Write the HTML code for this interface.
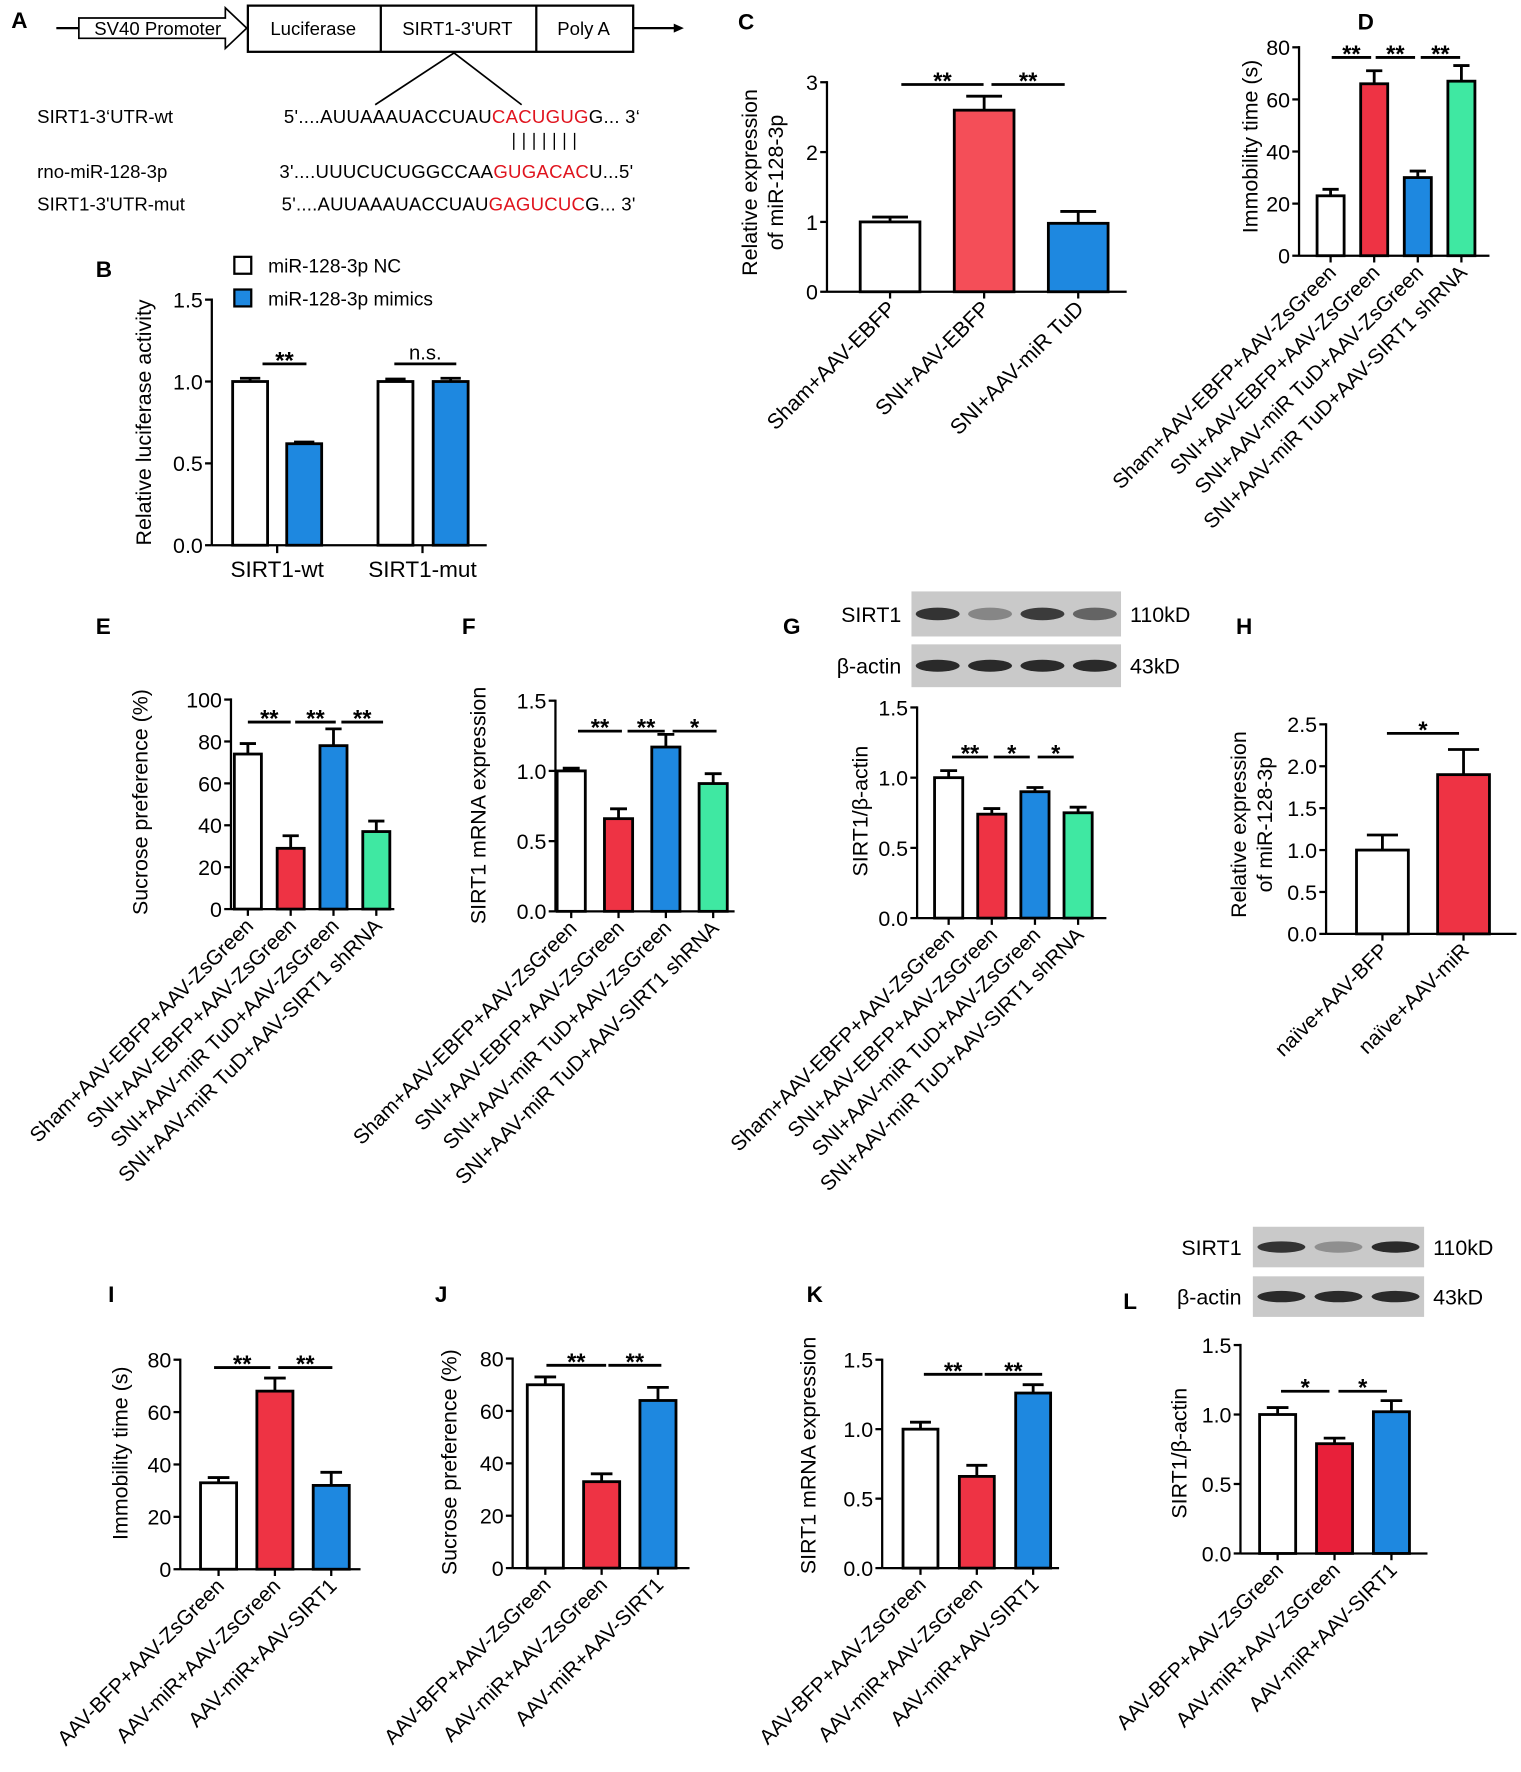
<!DOCTYPE html>
<html><head><meta charset="utf-8"><style>
html,body{margin:0;padding:0;background:#fff}
svg{display:block;font-family:"Liberation Sans",Arial,sans-serif}
</style></head><body>
<svg id="fig" xmlns="http://www.w3.org/2000/svg" width="1521" height="1772" viewBox="0 0 1350 1573" preserveAspectRatio="none">
<g font-size="16.5">
<text x="10" y="25" font-size="20" font-weight="bold">A</text>
<line x1="50" y1="25" x2="70" y2="25" stroke="#000" stroke-width="2"/>
<path d="M70,16 H200 V7 L219,25 L200,43 V34 H70 Z" fill="#fff" stroke="#000" stroke-width="1.5"/>
<text x="140" y="31" text-anchor="middle">SV40 Promoter</text>
<rect x="220" y="5" width="342" height="41" fill="#fff" stroke="#000" stroke-width="2"/>
<line x1="338" y1="5" x2="338" y2="46" stroke="#000" stroke-width="2"/>
<line x1="476" y1="5" x2="476" y2="46" stroke="#000" stroke-width="2"/>
<text x="278" y="31" text-anchor="middle">Luciferase</text>
<text x="406" y="31" text-anchor="middle">SIRT1-3'URT</text>
<text x="518" y="31" text-anchor="middle">Poly A</text>
<line x1="562" y1="25" x2="600" y2="25" stroke="#000" stroke-width="2"/>
<path d="M598,21 L607,25 L598,29 Z"/>
<path d="M333,93 L403,47 L463,93" fill="none" stroke="#000" stroke-width="1.5"/>
<text x="33" y="109">SIRT1-3‘UTR-wt</text>
<text x="252" y="109" textLength="316">5'....AUUAAAUACCUAU<tspan fill="#e0141e">CACUGUG</tspan>G... 3‘</text>
<path d="M456,118v15M465,118v15M474,118v15M483,118v15M492,118v15M501,118v15M510,118v15" stroke="#000" stroke-width="1.2"/>
<text x="33" y="158">rno-miR-128-3p</text>
<text x="248" y="158" textLength="314">3'....UUUCUCUGGCCAA<tspan fill="#e0141e">GUGACAC</tspan>U...5'</text>
<text x="33" y="187">SIRT1-3'UTR-mut</text>
<text x="250" y="187" textLength="314">5'....AUUAAAUACCUAU<tspan fill="#e0141e">GAGUCUC</tspan>G... 3'</text>
</g>
<g id="charts"></g>
</svg>
<script>
// ---- data ----
const bCategories = ["SIRT1-wt","SIRT1-mut"];
const bValues = [1.0, 0.62, 1.0, 1.0];
const bErrors = [0.02, 0.01, 0.015, 0.02];
const cCategories = ["Sham+AAV-EBFP","SNI+AAV-EBFP","SNI+AAV-miR TuD"];
const cValues = [1.0, 2.6, 0.98];
const cErrors = [0.07, 0.2, 0.17];
const groups4 = ["Sham+AAV-EBFP+AAV-ZsGreen","SNI+AAV-EBFP+AAV-ZsGreen","SNI+AAV-miR TuD+AAV-ZsGreen","SNI+AAV-miR TuD+AAV-SIRT1 shRNA"];
const dValues = [23, 66, 30, 67];
const dErrors = [2.5, 5, 2.5, 6];
const eValues = [74, 29, 78, 37];
const eErrors = [5, 6, 8, 5];
const fValues = [1.0, 0.66, 1.17, 0.91];
const fErrors = [0.02, 0.07, 0.09, 0.07];
const gValues = [1.0, 0.74, 0.9, 0.75];
const gErrors = [0.05, 0.04, 0.03, 0.04];
const hCategories = ["naïve+AAV-BFP","naïve+AAV-miR"];
const hValues = [1.0, 1.9];
const hErrors = [0.18, 0.3];
const groups3 = ["AAV-BFP+AAV-ZsGreen","AAV-miR+AAV-ZsGreen","AAV-miR+AAV-SIRT1"];
const iValues = [33, 68, 32];
const iErrors = [2, 5, 5];
const jValues = [70, 33, 64];
const jErrors = [3, 3, 5];
const kValues = [1.0, 0.66, 1.26];
const kErrors = [0.05, 0.08, 0.06];
const lValues = [1.0, 0.79, 1.02];
const lErrors = [0.05, 0.04, 0.08];
const ticks15 = [0, 0.5, 1.0, 1.5];
const tickLabels15 = ["0.0","0.5","1.0","1.5"];
const ticks3 = [0,1,2,3];
const ticks80 = [0,20,40,60,80];
const ticks100 = [0,20,40,60,80,100];
const ticks25 = [0,0.5,1.0,1.5,2.0,2.5];
const tickLabels25 = ["0.0","0.5","1.0","1.5","2.0","2.5"];

const NS="http://www.w3.org/2000/svg";
const root=document.getElementById('charts');
function mk(tag,attrs,parent,txt){const e=document.createElementNS(NS,tag);for(const k in attrs)e.setAttribute(k,attrs[k]);if(txt!==undefined)e.textContent=txt;(parent||root).appendChild(e);return e;}
const W="#ffffff",R="#ee3344",R2="#f44e58",B="#1e88e0",G="#3fe8a2";

function panel(p){
  const g=mk('g',{});
  
  
  const ys=v=>p.yBot-v/p.max*(p.yBot-p.yTop);
  mk('text',{x:p.letter[0],y:p.letter[1],'font-size':20,'font-weight':'bold'},g,p.letterText);
  const ax=mk('line',{x1:p.x0,y1:ys(p.max)-1,x2:p.x0,y2:p.yBot,stroke:'#000','stroke-width':2},g);
  
  
  const xa=mk('line',{x1:p.x0,y1:p.yBot,x2:p.xEnd,y2:p.yBot,stroke:'#000','stroke-width':2},g);
  
  
  p.ticks.forEach((t,i)=>{
    mk('line',{x1:p.x0-6,y1:ys(t),x2:p.x0,y2:ys(t),stroke:'#000','stroke-width':2},g);
    const tl=mk('text',{x:p.x0-8,y:ys(t)+7,'text-anchor':'end','font-size':19},g,p.tickLabels?p.tickLabels[i]:String(t));
    
    
  });
  const tt=mk('text',{transform:`translate(${p.title[0]},${p.title[1]}) rotate(-90)`,'text-anchor':'middle','font-size':19},g);
  p.titleLines.forEach((s,i)=>{mk('tspan',{x:0,dy:i?23:0},tt,s);});
  
  
  p.values.forEach((v,i)=>{
    const cx=p.c0+i*p.step, w=p.w;
    const top=ys(v), et=ys(v+p.errors[i]);
    mk('line',{x1:cx,y1:top,x2:cx,y2:et,stroke:'#000','stroke-width':2.5},g);
    mk('line',{x1:cx-w*0.3,y1:et,x2:cx+w*0.3,y2:et,stroke:'#000','stroke-width':2.5},g);
    const r=mk('rect',{x:cx-w/2,y:top,width:w,height:p.yBot-top,fill:p.colors[i],stroke:'#000','stroke-width':2.5},g);
    
    
    if(!p.groupTicks){
      mk('line',{x1:cx,y1:p.yBot,x2:cx,y2:p.yBot+6,stroke:'#000','stroke-width':2},g);
      const lb=mk('text',{transform:`translate(${cx+6},${p.yBot+16}) rotate(-45)`,'text-anchor':'end','font-size':p.lf||18.5},g,p.cats[i]);
      
      
    }
  });
  if(p.groupTicks){
    p.groupTicks.forEach((x,i)=>{
      mk('line',{x1:x,y1:p.yBot,x2:x,y2:p.yBot+7,stroke:'#000','stroke-width':2},g);
      const lb=mk('text',{x:x,y:p.yBot+28,'text-anchor':'middle','font-size':20},g,p.cats[i]);
      
      
    });
  }
  p.sig.forEach(s=>{
    mk('line',{x1:s[0],y1:s[2],x2:s[1],y2:s[2],stroke:'#000','stroke-width':2.5},g);
    const st=mk('text',{x:(s[0]+s[1])/2,y:s[2]-(s[3]==='n.s.'?4:-4),'text-anchor':'middle','font-size':s[3]==='n.s.'?18:21,'font-weight':s[3]==='n.s.'?'normal':'bold'},g,s[3]);
    
    
  });
  return g;
}

function panelB(){
  const p={name:'panel-b',letter:[85,246],letterText:'B',x0:188,xEnd:432,yTop:266,yBot:484,max:1.5,ticks:ticks15,tickLabels:tickLabels15,
  title:[134,375],titleLines:['Relative  luciferase activity'],values:[],errors:[],c0:0,step:0,w:30,colors:[],cats:bCategories,groupTicks:[246,375],
  sig:[[233,272,323,'**'],[350,405,323,'n.s.']]};
  const g=panel(p);
  const ys=v=>p.yBot-v/p.max*(p.yBot-p.yTop);
  const centers=[222,270,351,400], cols=[W,B,W,B];
  bValues.forEach((v,i)=>{
    const cx=centers[i],w=31,top=ys(v),et=ys(v+bErrors[i]);
    mk('line',{x1:cx,y1:top,x2:cx,y2:et,stroke:'#000','stroke-width':2.5},g);
    mk('line',{x1:cx-9,y1:et,x2:cx+9,y2:et,stroke:'#000','stroke-width':2.5},g);
    const r=mk('rect',{x:cx-w/2,y:top,width:w,height:p.yBot-top,fill:cols[i],stroke:'#000','stroke-width':2.5},g);
    
    
  });
  const lg=mk('g',{},g);
  
  
  mk('rect',{x:208,y:228,width:15,height:15,fill:W,stroke:'#000','stroke-width':2},lg);
  mk('text',{x:238,y:242,'font-size':17},lg,'miR-128-3p NC');
  mk('rect',{x:208,y:257,width:15,height:15,fill:B,stroke:'#000','stroke-width':2},lg);
  mk('text',{x:238,y:271,'font-size':17},lg,'miR-128-3p mimics');
}
panelB();
panel({name:'panel-c',letter:[655,26],letterText:'C',x0:734,xEnd:1000,yTop:73,yBot:259,max:3,ticks:ticks3,
  title:[672,162],titleLines:['Relative expression','of miR-128-3p'],values:cValues,errors:cErrors,c0:790,step:83.5,w:53,
  colors:[W,R2,B],cats:cCategories,lf:19,sig:[[800,873,75,'**'],[880,945,75,'**']]});
panel({name:'panel-d',letter:[1205,26],letterText:'D',x0:1153,xEnd:1322,yTop:42,yBot:227,max:80,ticks:ticks80,
  title:[1116,130],titleLines:['Immobility time (s)'],values:dValues,errors:dErrors,c0:1181,step:38.7,w:24,
  colors:[W,R,B,G],cats:groups4,sig:[[1182,1217,51,'**'],[1221,1256,51,'**'],[1261,1296,51,'**']]});
panel({name:'panel-e',letter:[85,563],letterText:'E',x0:205,xEnd:350,yTop:621,yBot:807,max:100,ticks:ticks100,
  title:[131,712],titleLines:['Sucrose preference (%)'],values:eValues,errors:eErrors,c0:220,step:38,w:24,
  colors:[W,R,B,G],cats:groups4,sig:[[220,258,641,'**'],[262,298,641,'**'],[303,340,641,'**']]});
panel({name:'panel-f',letter:[410,563],letterText:'F',x0:493,xEnd:652,yTop:622,yBot:809,max:1.5,ticks:ticks15,tickLabels:tickLabels15,
  title:[431,715],titleLines:['SIRT1 mRNA expression'],values:fValues,errors:fErrors,c0:507,step:42,w:25,
  colors:[W,R,B,G],cats:groups4,sig:[[513,552,649,'**'],[557,590,649,'**'],[597,636,649,'*']]});
panel({name:'panel-g',letter:[695,563],letterText:'G',x0:814,xEnd:982,yTop:628,yBot:815,max:1.5,ticks:ticks15,tickLabels:tickLabels15,
  title:[770,720],titleLines:['SIRT1/β-actin'],values:gValues,errors:gErrors,c0:842,step:38.3,w:25,
  colors:[W,R,B,G],cats:groups4,sig:[[845,877,672,'**'],[882,914,672,'*'],[921,953,672,'*']]});
panel({name:'panel-h',letter:[1097,563],letterText:'H',x0:1177,xEnd:1346,yTop:643,yBot:829,max:2.5,ticks:ticks25,tickLabels:tickLabels25,
  title:[1106,732],titleLines:['Relative expression','of miR-128-3p'],values:hValues,errors:hErrors,c0:1227,step:72,w:46,
  colors:[W,R],cats:hCategories,sig:[[1231,1295,651,'*']]});
panel({name:'panel-i',letter:[96,1156],letterText:'I',x0:160,xEnd:320,yTop:1207,yBot:1393,max:80,ticks:ticks80,
  title:[113,1290],titleLines:['Immobility time (s)'],values:iValues,errors:iErrors,c0:194,step:50,w:32,
  colors:[W,R,B],cats:groups3,sig:[[190,240,1214,'**'],[247,295,1214,'**']]});
panel({name:'panel-j',letter:[386,1156],letterText:'J',x0:455,xEnd:612,yTop:1206,yBot:1392,max:80,ticks:ticks80,
  title:[405,1298],titleLines:['Sucrose preference (%)'],values:jValues,errors:jErrors,c0:484,step:50,w:32,
  colors:[W,R,B],cats:groups3,sig:[[485,538,1212,'**'],[540,587,1212,'**']]});
panel({name:'panel-k',letter:[716,1156],letterText:'K',x0:783,xEnd:940,yTop:1207,yBot:1392,max:1.5,ticks:ticks15,tickLabels:tickLabels15,
  title:[724,1292],titleLines:['SIRT1 mRNA expression'],values:kValues,errors:kErrors,c0:817,step:50,w:31,
  colors:[W,R,B],cats:groups3,sig:[[820,872,1220,'**'],[874,925,1220,'**']]});
panel({name:'panel-l',letter:[997,1162],letterText:'L',x0:1101,xEnd:1267,yTop:1194,yBot:1379,max:1.5,ticks:ticks15,tickLabels:tickLabels15,
  title:[1053,1290],titleLines:['SIRT1/β-actin'],values:lValues,errors:lErrors,c0:1134,step:50.5,w:32,
  colors:[W,"#e8203a",B],cats:groups3,sig:[[1137,1180,1235,'*'],[1188,1231,1235,'*']]});

function blot(name,x,y,w,h,label,kd,bands,lx){
  const g=mk('g',{});
  
  
  mk('rect',{x:x,y:y,width:w,height:h,fill:'#c9c9c9'},g);
  bands.forEach((b,i)=>{
    const bw=w/bands.length;
    mk('ellipse',{cx:x+bw*(i+0.5),cy:y+h/2,rx:bw*0.42,ry:h*0.14,fill:'#222','fill-opacity':b},g);
  });
  mk('text',{x:lx,y:y+h/2+7,'text-anchor':'end','font-size':19},g,label);
  mk('text',{x:x+w+8,y:y+h/2+7,'font-size':19},g,kd);
}
blot('blot-g-sirt1',809,525,186,40,'SIRT1','110kD',[0.9,0.4,0.85,0.6],800);
blot('blot-g-actin',809,572,186,38,'β-actin','43kD',[0.95,0.95,0.95,0.95],800);
blot('blot-l-sirt1',1112,1089,152,36,'SIRT1','110kD',[0.9,0.35,0.95],1102);
blot('blot-l-actin',1112,1133,152,36,'β-actin','43kD',[0.95,0.95,0.95],1102);
</script>
</body></html>
